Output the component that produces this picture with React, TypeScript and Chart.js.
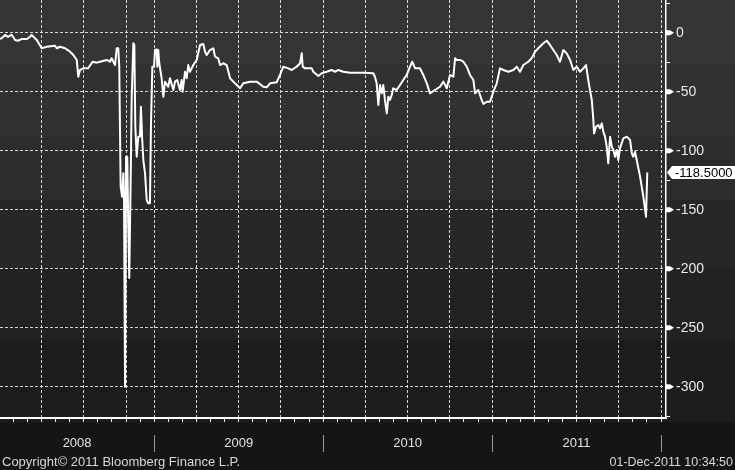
import React, { useEffect, useRef } from 'react';
import { Chart, registerables } from 'chart.js';

Chart.register(...registerables);

// x = months since 1 Jan 2008
const MONTHS = [
  1.05, 1.17, 1.41, 1.62, 1.88, 2.12, 2.33, 2.61, 2.97, 3.18, 3.30, 3.66, 4.01, 4.37, 4.96, 5.08, 5.31, 5.67,
  6.02, 6.26, 6.50, 6.61, 6.73, 6.97, 7.30, 7.63, 7.92, 8.15, 8.63, 8.86, 8.98, 9.22, 9.34, 9.45, 9.52, 9.62,
  9.72, 9.81, 9.86, 9.93, 10.00, 10.09, 10.16, 10.23, 10.33, 10.40, 10.52, 10.59, 10.66, 10.76, 10.87, 10.99,
  11.06, 11.14, 11.23, 11.35, 11.47, 11.58, 11.70, 11.77, 11.87, 11.99, 12.06, 12.18, 12.22, 12.29, 12.36,
  12.53, 12.65, 12.77, 13.00, 13.12, 13.36, 13.48, 13.64, 13.83, 13.95, 14.02, 14.19, 14.31, 14.42, 14.54,
  14.78, 15.02, 15.26, 15.49, 15.61, 15.73, 15.96, 16.20, 16.32, 16.55, 16.68, 16.91, 17.15, 17.39, 17.62,
  17.74, 18.10, 18.33, 18.81, 19.28, 19.75, 19.99, 20.23, 20.70, 20.94, 21.17, 21.53, 21.77, 22.12, 22.36,
  22.48, 22.55, 22.71, 23.19, 23.30, 23.66, 23.90, 24.25, 24.61, 24.84, 25.08, 25.43, 25.91, 26.85, 27.56,
  27.68, 27.80, 27.92, 28.04, 28.16, 28.27, 28.39, 28.52, 28.63, 28.75, 28.87, 28.98, 29.22, 29.46, 29.69,
  29.94, 30.17, 30.33, 30.53, 30.88, 31.11, 31.36, 31.59, 31.94, 32.30, 32.54, 32.78, 33.01, 33.25, 33.37,
  33.49, 33.72, 33.96, 34.20, 34.43, 34.67, 34.79, 35.02, 35.26, 35.38, 35.62, 35.85, 36.09, 36.33, 36.56,
  36.80, 37.15, 37.51, 37.75, 37.98, 38.22, 38.57, 38.81, 39.05, 39.28, 39.64, 39.88, 40.11, 40.35, 40.59,
  40.82, 41.06, 41.30, 41.54, 41.77, 42.01, 42.24, 42.48, 42.67, 42.83, 42.95, 43.08, 43.19, 43.24, 43.38,
  43.54, 43.66, 43.79, 43.90, 44.02, 44.14, 44.25, 44.38, 44.50, 44.61, 44.73, 44.85, 44.96, 45.08, 45.32,
  45.56, 45.80, 45.92, 46.03, 46.15, 46.27, 46.51, 46.74, 46.93, 47.02,
];

const SPREAD = [
  -5.3, -4.7, -1.9, -3.6, -1.7, -6.2, -6.8, -5.3, -5.3, -3.4, -1.9, -6.2, -13.2, -11.9, -11.0, -13.2, -11.9, -13.2,
  -16.1, -18.9, -23.1, -37.3, -31.6, -30.2, -30.2, -24.6, -25.4, -24.6, -23.1, -24.6, -21.7, -27.4, -13.2, -13.2, -28.8, -130.5,
  -139, -119.2, -141.8, -300, -105.1, -105.1, -164.4, -207.9, -124.8, -57.0, -9.0, -10.4, -79.7, -105.1, -88.1, -88.1,
  -62.7, -88.1, -107.9, -119.2, -141.8, -144.6, -144.6, -79.7, -28.8, -28.8, -14.7, -14.1, -28.8, -14.7, -25.9,
  -38.6, -54.2, -41.5, -45.8, -38.6, -48.6, -41.5, -40.1, -48.6, -40.1, -50, -33.1, -38.6, -27.4, -33.1,
  -27.4, -23.1, -10.4, -9.6, -16.1, -18.9, -14.7, -13.2, -20.3, -21.7, -27.4, -25.9, -27.4, -38.6, -41.5,
  -42.9, -47.1, -42.9, -41.5, -41.5, -45.8, -46.3, -42.9, -42.0, -35.8, -28.8, -30.2, -31.6, -28.8, -25.9,
  -17.5, -28.8, -30.2, -30.2, -33.1, -36.7, -34.4, -33.1, -31.6, -33.1, -31.6, -33.1, -33.9, -33.9, -34.4,
  -37.3, -42.9, -61.3, -44.3, -51.4, -44.3, -57.0, -68.3, -54.2, -57.0, -52.8, -47.1, -48.6, -44.3, -40.1,
  -35.8, -28.8, -24.6, -30.2, -30.2, -35.8, -42.9, -51.4, -48.6, -45.8, -41.5, -47.1, -35.8, -37.3, -21.7,
  -23.1, -23.1, -24.6, -28.8, -35.8, -40.1, -51.4, -48.6, -57.0, -60.4, -58.5, -58.5, -50, -42.9, -30.2,
  -31.6, -33.1, -31.6, -28.8, -33.1, -27.4, -24.6, -21.7, -16.1, -13.2, -9.0, -6.8, -10.4, -14.7, -18.9,
  -24.6, -14.7, -17.5, -23.1, -31.6, -28.8, -33.1, -30.2, -27.4, -40.1, -48.6, -57.0, -74.0, -85.3, -79.7,
  -78.2, -81.0, -76.8, -83.9, -88.1, -96.6, -110.7, -88.1, -96.6, -99.4, -105.1, -99.4, -107.9, -98.0, -89.5,
  -88.1, -90.9, -102.2, -105.1, -100.9, -107.9, -122.0, -139.0, -155.9, -118.5,
];

const Y_TICKS = [25, 0, -25, -50, -75, -100, -125, -150, -175, -200, -225, -250, -275, -300, -325];
const Y_MIN = -326.5;
const Y_MAX = 27.7;
const X_MIN = 1.05;
const X_MAX = 48.35;
const MONTH_TICKS = Array.from({ length: 47 }, (_, i) => i + 2);
const GRID_MONTHS = [4, 7, 10, 12, 15, 18, 21, 24, 27, 30, 33, 36, 39, 42, 45, 48];
const YEAR_LABELS = ['2008', '2009', '2010', '2011'];
const YEAR_STARTS = [0, 12, 24, 36, 48];
const LAST_LABEL = '-118.5000';
const COPYRIGHT = 'Copyright\u00A9 2011 Bloomberg Finance L.P.';
const TIMESTAMP = '01-Dec-2011 10:34:50';

const FONT = '"Liberation Sans", Arial, sans-serif';
const GRID_COLOR = 'rgba(235,235,235,0.9)';
const CLEAR = 'rgba(0,0,0,0)';

const decor = {
  id: 'decor',
  beforeDraw(chart: any) {
    const { ctx, width } = chart;
    const bands: [number, number, string][] = [
      [0, 64, '#353535'],
      [64, 136, '#313131'],
      [136, 200, '#2c2c2c'],
      [200, 268, '#272727'],
      [268, 340, '#222222'],
      [340, 422, '#1d1d1d'],
      [422, 470, '#151515'],
    ];
    ctx.save();
    for (const [a, b, c] of bands) {
      ctx.fillStyle = c;
      ctx.fillRect(0, a, width, b - a);
    }
    ctx.restore();
  },
  afterDraw(chart: any) {
    const { ctx, chartArea, scales } = chart;
    const xs = scales.x;
    const ys = scales.y;
    const ax = chartArea.right;
    ctx.save();
    // major tick flags
    ctx.fillStyle = '#ffffff';
    for (const v of Y_TICKS) {
      if (v % 50 !== 0) continue;
      const py = ys.getPixelForValue(v);
      ctx.beginPath();
      ctx.moveTo(ax, py - 2.5);
      ctx.lineTo(ax + 4, py - 2.5);
      ctx.lineTo(ax + 8, py);
      ctx.lineTo(ax + 4, py + 2.5);
      ctx.lineTo(ax, py + 2.5);
      ctx.closePath();
      ctx.fill();
    }
    // year separators and labels
    ctx.strokeStyle = '#9a9a9a';
    ctx.lineWidth = 1;
    for (let i = 1; i < YEAR_STARTS.length; i++) {
      const px = Math.round(xs.getPixelForValue(YEAR_STARTS[i])) + 0.5;
      ctx.beginPath();
      ctx.moveTo(px, 435);
      ctx.lineTo(px, 452);
      ctx.stroke();
    }
    ctx.fillStyle = '#e2e2e2';
    ctx.font = '13px ' + FONT;
    ctx.textAlign = 'center';
    ctx.textBaseline = 'middle';
    for (let i = 0; i < YEAR_LABELS.length; i++) {
      const l = Math.max(xs.getPixelForValue(YEAR_STARTS[i]), chartArea.left);
      const r = xs.getPixelForValue(YEAR_STARTS[i + 1]);
      ctx.fillText(YEAR_LABELS[i], (l + r) / 2, 443);
    }
    // last value box
    const vy = ys.getPixelForValue(SPREAD[SPREAD.length - 1]);
    ctx.fillStyle = '#ffffff';
    ctx.beginPath();
    ctx.moveTo(ax + 1, vy);
    ctx.lineTo(ax + 6, vy - 6.5);
    ctx.lineTo(chart.width, vy - 6.5);
    ctx.lineTo(chart.width, vy + 6.5);
    ctx.lineTo(ax + 6, vy + 6.5);
    ctx.closePath();
    ctx.fill();
    ctx.fillStyle = '#000000';
    ctx.font = '13px ' + FONT;
    ctx.textAlign = 'left';
    ctx.fillText(LAST_LABEL, ax + 9, vy + 0.5);
    ctx.restore();
  },
};

export default function App() {
  const ref = useRef<HTMLCanvasElement>(null);
  useEffect(() => {
    if (!ref.current) return;
    const chart = new Chart(ref.current, {
      type: 'line',
      data: {
        datasets: [
          {
            data: MONTHS.map((m, i) => ({ x: m, y: SPREAD[i] })),
            borderColor: '#ffffff',
            borderWidth: 2,
            pointRadius: 0,
            tension: 0,
            borderJoinStyle: 'round',
            fill: false,
          },
        ],
      },
      options: {
        responsive: false,
        animation: false,
        layout: { padding: 0 },
        plugins: { legend: { display: false }, tooltip: { enabled: false } },
        scales: {
          x: {
            type: 'linear',
            position: 'bottom',
            min: X_MIN,
            max: X_MAX,
            afterBuildTicks: (s: any) => {
              s.ticks = MONTH_TICKS.map((v) => ({ value: v }));
            },
            afterFit: (s: any) => {
              s.height = 52;
              s.paddingLeft = 0;
              s.paddingRight = 0;
            },
            grid: {
              color: (c: any) => (c.tick && GRID_MONTHS.includes(c.tick.value) ? GRID_COLOR : CLEAR),
              lineWidth: 1,
              drawTicks: true,
              tickLength: 4,
              tickColor: '#ffffff',
              tickWidth: 1,
            },
            border: { display: true, color: '#ffffff', width: 2, dash: [3, 2] },
            ticks: { display: false },
          },
          y: {
            type: 'linear',
            position: 'right',
            min: Y_MIN,
            max: Y_MAX,
            afterBuildTicks: (s: any) => {
              s.ticks = Y_TICKS.map((v) => ({ value: v }));
            },
            afterFit: (s: any) => {
              s.width = 69;
              s.paddingTop = 0;
              s.paddingBottom = 0;
            },
            grid: {
              color: (c: any) => (c.tick && c.tick.value % 50 === 0 ? GRID_COLOR : CLEAR),
              lineWidth: 1,
              drawTicks: true,
              tickLength: 4,
              tickColor: (c: any) => (c.tick && c.tick.value % 50 === 0 ? CLEAR : '#ffffff'),
              tickWidth: 1,
            },
            border: { display: true, color: '#ffffff', width: 1.5, dash: [3, 2] },
            ticks: {
              autoSkip: false,
              padding: 6,
              color: '#e8e8e8',
              font: { family: FONT, size: 14 },
              callback: (v: any) => (Number(v) % 50 === 0 ? String(v) : ''),
            },
          },
        },
      },
      plugins: [decor],
    } as any);
    return () => chart.destroy();
  }, []);

  const footer: React.CSSProperties = {
    position: 'absolute',
    top: 454,
    font: '13px ' + FONT,
    lineHeight: '16px',
    color: '#d8d8d8',
    whiteSpace: 'nowrap',
  };

  return (
    <div
      style={{
        position: 'fixed',
        left: 0,
        top: 0,
        width: 735,
        height: 470,
        background: '#151515',
        overflow: 'hidden',
      }}
    >
      <canvas ref={ref} width={735} height={470} style={{ display: 'block' }} />
      <div style={{ ...footer, left: 2 }}>{COPYRIGHT}</div>
      <div style={{ ...footer, right: 2, fontSize: 12.5 }}>{TIMESTAMP}</div>
    </div>
  );
}
